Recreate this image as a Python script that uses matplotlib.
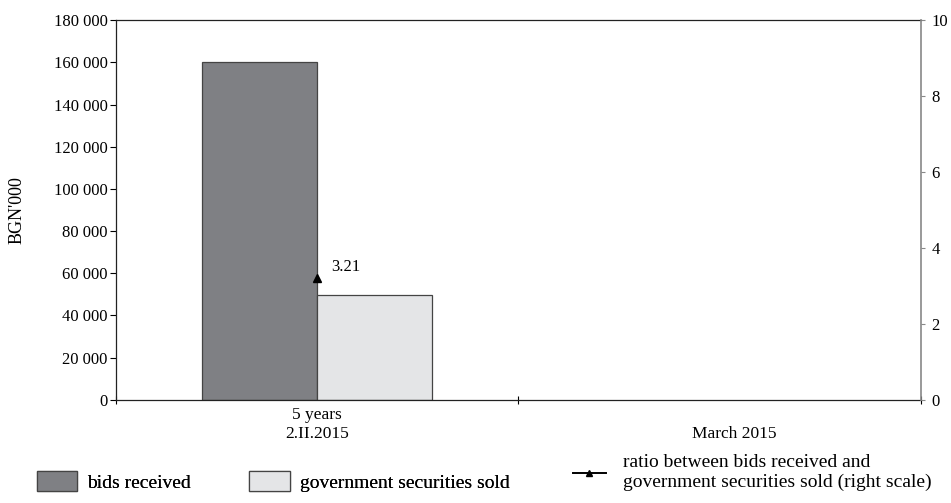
import numpy as np
import matplotlib
matplotlib.use("Agg")
import matplotlib.pyplot as plt
import matplotlib.transforms as mtransforms
from matplotlib.patches import Patch
from matplotlib.lines import Line2D

plt.rcParams["font.family"] = ["Liberation Serif", "DejaVu Serif"]

categories = ["5 years\n2.II.2015", "\nMarch 2015"]
bids_received = [160000, np.nan]
securities_sold = [49850, np.nan]
ratio = [3.21, np.nan]
ratio_labels = ["3.21", ""]

DARK = "#7f8084"
LIGHT = "#e4e5e7"
EDGE = "#444444"

fig = plt.figure(figsize=(9.51, 5.03), dpi=100)
ax = fig.add_axes([0.122, 0.205, 0.846, 0.755])

x = np.arange(len(categories))
w = 0.286
ax.bar(x - w / 2, bids_received, w, color=DARK, edgecolor=EDGE, linewidth=0.9)
ax.bar(x + w / 2, securities_sold, w, color=LIGHT, edgecolor=EDGE, linewidth=0.9)

ax.set_xlim(-0.5, len(categories) - 0.5)
ax.set_ylim(0, 180000)
ax.set_yticks(range(0, 180001, 20000))
ax.set_yticklabels([f"{v:,}".replace(",", " ") for v in range(0, 180001, 20000)], fontsize=12)
ax.set_xticks(x)
ax.set_xticklabels(categories, fontsize=12.5, linespacing=1.25)
ax.tick_params(axis="x", length=0, pad=5)
ax.set_xticks(np.arange(len(categories) + 1) - 0.5, minor=True)
ax.tick_params(axis="x", which="minor", length=6, direction="inout", width=0.8)
ax.tick_params(axis="y", length=4, width=0.8, direction="out", pad=2)
# the second category label sits a little right of its centre in the original
lab = ax.get_xticklabels()[1]
lab.set_transform(lab.get_transform() + mtransforms.ScaledTranslation(15 / 100, 0, fig.dpi_scale_trans))
ax.set_ylabel("BGN'000", fontsize=13)
ax.yaxis.set_label_coords(-0.112, 0.5)
for s in ["left", "bottom", "top"]:
    ax.spines[s].set_linewidth(0.9)
    ax.spines[s].set_color("#222222")
ax.spines["right"].set_visible(False)

ax2 = ax.twinx()
ax2.set_ylim(0, 10)
ax2.set_yticks(range(0, 11, 2))
ax2.tick_params(axis="y", labelsize=12, length=3, width=0.8, color="#888888", pad=5)
ax2.spines["right"].set_color("#888888")
ax2.spines["right"].set_linewidth(1.2)
for s in ["left", "bottom", "top"]:
    ax2.spines[s].set_visible(False)
ax2.plot(x, ratio, color="black", marker="^", markersize=6, linestyle="-")
for xi, r, txt in zip(x, ratio, ratio_labels):
    if txt:
        ax2.annotate(txt, (xi, r), xytext=(10, 2), textcoords="offset points",
                     fontsize=12, va="bottom", ha="left")

bar_handles = [
    Patch(facecolor=DARK, edgecolor=EDGE, linewidth=0.9),
    Patch(facecolor=LIGHT, edgecolor=EDGE, linewidth=0.9),
]
leg1 = fig.legend(bar_handles, ["bids received", "government securities sold"],
                  loc="center left", bbox_to_anchor=(0.0385, 0.043), ncol=2,
                  frameon=False, fontsize=14, handlelength=2.1, handleheight=1.2,
                  columnspacing=3.0, handletextpad=0.5, borderaxespad=0, borderpad=0)
fig.add_artist(leg1)
line_handle = Line2D([], [], color="black", marker="^", markersize=5, linewidth=1.4)
fig.legend([line_handle],
           ["ratio between bids received and\ngovernment securities sold (right scale)"],
           loc="center left", bbox_to_anchor=(0.603, 0.06), frameon=False,
           fontsize=14, handlelength=1.65, handletextpad=0.9, borderaxespad=0,
           borderpad=0, labelspacing=0.05)

fig.savefig("out.png", dpi=100)
